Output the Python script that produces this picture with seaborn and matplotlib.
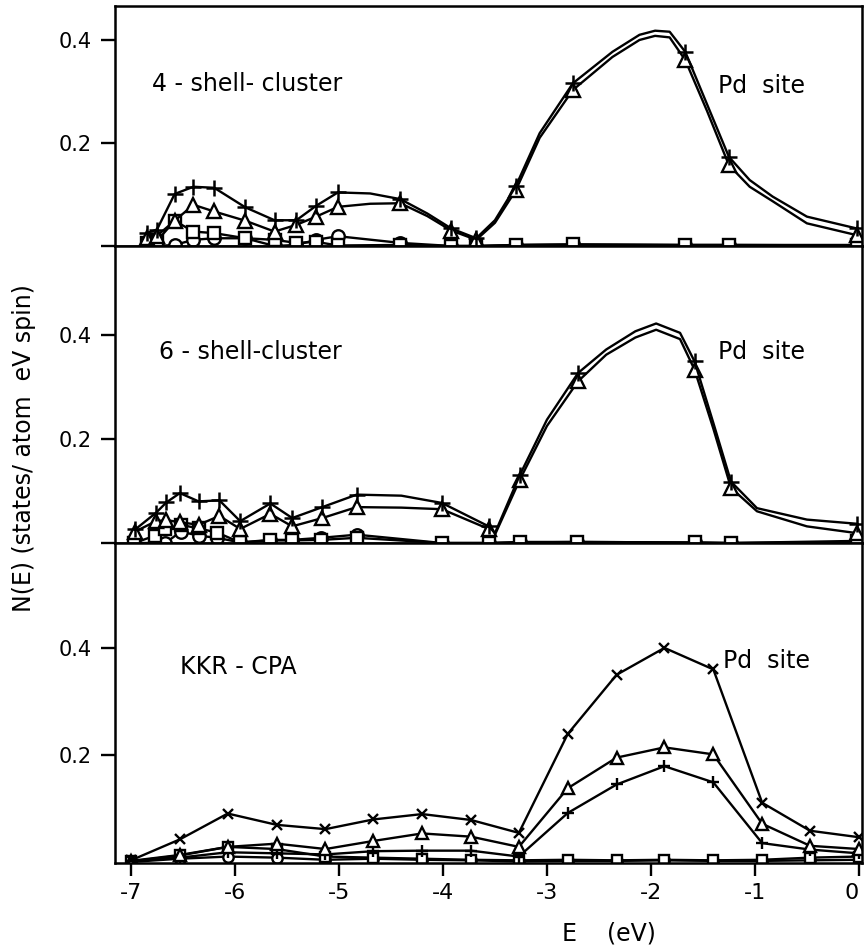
import matplotlib
matplotlib.use("Agg")
import matplotlib.pyplot as plt
import seaborn as sns

# 4-shell cluster, Pd site (curves for + and triangle share one energy grid)
shell4_e = [-6.85, -6.75, -6.58, -6.40, -6.20, -5.90, -5.62, -5.41, -5.22, -5.01,
            -4.70, -4.41, -4.15, -3.92, -3.68, -3.50, -3.30, -3.07, -2.75, -2.37,
            -2.11, -1.96, -1.82, -1.67, -1.46, -1.25, -1.05, -0.83, -0.50, -0.02]
shell4_mark = [1, 1, 1, 1, 1, 1, 1, 1, 1, 1, 0, 1, 0, 1, 1, 0, 1, 0, 1, 0,
               0, 0, 0, 1, 0, 1, 0, 0, 0, 1]
shell4_plus = [0.025, 0.032, 0.101, 0.115, 0.113, 0.075, 0.050, 0.050, 0.078, 0.104,
               0.102, 0.091, 0.063, 0.034, 0.015, 0.050, 0.116, 0.219, 0.316, 0.377,
               0.410, 0.418, 0.416, 0.377, 0.275, 0.173, 0.128, 0.096, 0.057, 0.034]
shell4_tri = [0.015, 0.020, 0.049, 0.080, 0.067, 0.049, 0.028, 0.041, 0.057, 0.076,
              0.082, 0.083, 0.058, 0.030, 0.012, 0.045, 0.108, 0.210, 0.303, 0.367,
              0.400, 0.408, 0.405, 0.361, 0.262, 0.157, 0.115, 0.087, 0.044, 0.021]
shell4_low_e = [-6.85, -6.75, -6.58, -6.40, -6.20, -5.90, -5.62, -5.41, -5.22, -5.01,
                -4.41, -3.92, -3.68, -3.30, -2.75, -1.67, -1.25, -0.02]
shell4_sq = [0.005, 0.010, 0.049, 0.028, 0.025, 0.015, 0.012, 0.006, 0.008, 0.001,
             0.002, 0.0, 0.0, 0.002, 0.003, 0.002, 0.002, 0.001]
shell4_circ = [0.002, 0.0, 0.002, 0.012, 0.015, 0.015, 0.0, 0.002, 0.012, 0.019,
               0.006, 0.0, 0.0, 0.002, 0.003, 0.002, 0.002, 0.002]

# 6-shell cluster
shell6_e = [-6.96, -6.76, -6.66, -6.53, -6.35, -6.15, -5.95, -5.66, -5.45, -5.16,
            -4.83, -4.40, -4.01, -3.56, -3.50, -3.26, -3.00, -2.70, -2.43, -2.15,
            -1.95, -1.72, -1.58, -1.40, -1.23, -0.98, -0.50, -0.02]
shell6_mark = [1, 1, 1, 1, 1, 1, 1, 1, 1, 1, 1, 0, 1, 1, 0, 1, 0, 1, 0, 0,
               0, 0, 1, 0, 1, 0, 0, 1]
shell6_plus = [0.026, 0.058, 0.078, 0.096, 0.080, 0.082, 0.042, 0.076, 0.048, 0.069,
               0.093, 0.091, 0.077, 0.032, 0.019, 0.131, 0.237, 0.327, 0.372, 0.407,
               0.422, 0.404, 0.349, 0.231, 0.118, 0.067, 0.045, 0.037]
shell6_tri = [0.022, 0.042, 0.044, 0.040, 0.035, 0.052, 0.027, 0.056, 0.032, 0.048,
              0.069, 0.068, 0.065, 0.027, 0.016, 0.122, 0.225, 0.311, 0.362, 0.395,
              0.410, 0.392, 0.333, 0.220, 0.106, 0.061, 0.032, 0.019]
shell6_low_e = [-6.97, -6.77, -6.67, -6.52, -6.35, -6.17, -5.95, -5.66, -5.45, -5.17,
                -4.83, -4.01, -3.56, -3.26, -2.71, -1.58, -1.23, -0.02]
shell6_sq = [0.0, 0.014, 0.026, 0.035, 0.028, 0.020, 0.001, 0.005, 0.005, 0.006,
             0.010, 0.0, 0.0, 0.002, 0.002, 0.001, 0.0, 0.004]
shell6_circ = [0.0, 0.0, 0.0, 0.022, 0.014, 0.010, 0.001, 0.006, 0.006, 0.010,
               0.016, 0.0, 0.0, 0.001, 0.002, 0.001, 0.0, 0.002]

# KKR-CPA
kkr_e = [-7.0, -6.53, -6.07, -5.6, -5.13, -4.67, -4.2, -3.73, -3.27, -2.8,
         -2.33, -1.87, -1.4, -0.93, -0.47, 0.0]
kkr_x = [0.005, 0.044, 0.092, 0.071, 0.063, 0.081, 0.091, 0.080, 0.056, 0.240,
         0.350, 0.400, 0.360, 0.112, 0.060, 0.048]
kkr_tri = [0.004, 0.015, 0.030, 0.036, 0.026, 0.041, 0.055, 0.049, 0.030, 0.139,
           0.196, 0.215, 0.202, 0.073, 0.032, 0.026]
kkr_plus = [0.003, 0.010, 0.020, 0.018, 0.016, 0.022, 0.023, 0.023, 0.012, 0.093,
            0.146, 0.180, 0.150, 0.037, 0.025, 0.018]
kkr_sq = [0.003, 0.014, 0.030, 0.026, 0.012, 0.010, 0.008, 0.006, 0.005, 0.006,
          0.005, 0.006, 0.005, 0.006, 0.010, 0.012]
kkr_circ = [0.002, 0.008, 0.012, 0.010, 0.006, 0.008, 0.006, 0.005, 0.003, 0.004,
            0.004, 0.005, 0.004, 0.004, 0.005, 0.006]

x_ticks = [-7, -6, -5, -4, -3, -2, -1, 0]
x_ticklabels = ["-7", "-6", "-5", "-4", "-3", "-2", "-1", "0"]


def draw_series(ax, e, n, marker, mark=None, size=9.0, mew=1.7):
    every = None if mark is None else [bool(m) for m in mark]
    sns.lineplot(x=e, y=n, ax=ax, color="black", linewidth=1.7, estimator=None,
                 marker=marker, markevery=every, markersize=size,
                 markerfacecolor="white", markeredgecolor="black",
                 markeredgewidth=mew)


sns.set_style("ticks")
plt.rcParams["font.family"] = ["DejaVu Sans"]
plt.rcParams["text.color"] = "black"
plt.rcParams["axes.labelcolor"] = "black"
plt.rcParams["xtick.color"] = "black"
plt.rcParams["ytick.color"] = "black"

fig = plt.figure(figsize=(8.64, 9.49), dpi=100)
gs = fig.add_gridspec(3, 1, height_ratios=[240, 297, 320], hspace=0,
                      left=0.1331, right=0.9977, top=0.9937, bottom=0.0906)
ax_top = fig.add_subplot(gs[0])
ax_mid = fig.add_subplot(gs[1])
ax_bot = fig.add_subplot(gs[2])

# top panel
draw_series(ax_top, shell4_low_e, shell4_circ, "o", size=9)
draw_series(ax_top, shell4_low_e, shell4_sq, "s", size=8.5)
draw_series(ax_top, shell4_e, shell4_tri, "^", shell4_mark, size=10)
draw_series(ax_top, shell4_e, shell4_plus, "+", shell4_mark, size=11, mew=1.8)
ax_top.set_ylim(0, 0.466)

# middle panel
draw_series(ax_mid, shell6_low_e, shell6_circ, "o", size=9)
draw_series(ax_mid, shell6_low_e, shell6_sq, "s", size=8.5)
draw_series(ax_mid, shell6_e, shell6_tri, "^", shell6_mark, size=10)
draw_series(ax_mid, shell6_e, shell6_plus, "+", shell6_mark, size=11, mew=1.8)
ax_mid.set_ylim(0, 0.571)

# bottom panel
draw_series(ax_bot, kkr_e, kkr_circ, "o", size=7.5)
draw_series(ax_bot, kkr_e, kkr_sq, "s", size=7)
draw_series(ax_bot, kkr_e, kkr_plus, "+", size=9, mew=1.7)
draw_series(ax_bot, kkr_e, kkr_tri, "^", size=8.5)
draw_series(ax_bot, kkr_e, kkr_x, "x", size=7.5, mew=1.7)
ax_bot.set_ylim(0, 0.595)

for ax in (ax_top, ax_mid, ax_bot):
    ax.set_xlim(-7.154, 0.03)
    ax.set_xlabel("")
    ax.set_ylabel("")
    for sp in ax.spines.values():
        sp.set_linewidth(1.8)
        sp.set_color("black")
    ax.tick_params(axis="y", direction="out", length=10, width=1.7, pad=7,
                   labelsize=15, colors="black")

for ax in (ax_top, ax_mid):
    ax.set_yticks([0, 0.2, 0.4])
    ax.set_yticklabels(["", "0.2", "0.4"])
    ax.tick_params(axis="x", bottom=False, labelbottom=False)

ax_bot.set_yticks([0.2, 0.4])
ax_bot.set_yticklabels(["0.2", "0.4"])
ax_bot.set_xticks(x_ticks)
ax_bot.set_xticklabels(x_ticklabels)
ax_bot.tick_params(axis="x", direction="out", length=9.5, width=1.7, pad=5,
                   labelsize=16, colors="black")
# keep the "0" label inside the figure edge
ax_bot.get_xticklabels()[-1].set_horizontalalignment("right")

txt = dict(fontsize=17, va="center", ha="left", color="black")
ax_top.text(0.0495, 0.677, "4 - shell- cluster", transform=ax_top.transAxes, **txt)
ax_top.text(0.807, 0.667, "Pd  site", transform=ax_top.transAxes, **txt)
ax_mid.text(0.059, 0.643, "6 - shell-cluster", transform=ax_mid.transAxes, **txt)
ax_mid.text(0.807, 0.643, "Pd  site", transform=ax_mid.transAxes, **txt)
ax_bot.text(0.087, 0.6125, "KKR - CPA", transform=ax_bot.transAxes, **txt)
ax_bot.text(0.814, 0.631, "Pd  site", transform=ax_bot.transAxes, **txt)

fig.text(0.028, 0.528, "N(E) (states/ atom  eV spin)", rotation=90,
         ha="center", va="center", fontsize=17, color="black")
fig.text(0.705, 0.016, "E    (eV)", ha="center", va="center", fontsize=17,
         color="black")

fig.savefig("out.png", dpi=100)
